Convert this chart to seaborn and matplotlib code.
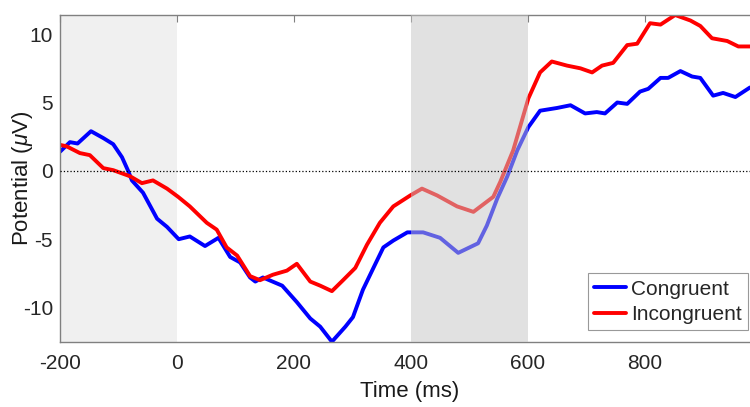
import pandas as pd
import seaborn as sns
import matplotlib.pyplot as plt

# ERP traces (time in ms, potential in microvolts)
cong_t = [-200, -183, -170, -147, -126, -109, -94, -84, -77, -58, -34, -17, 3, 22, 48, 71,
          91, 108, 125, 134, 147, 180, 205, 228, 245, 265, 288, 301, 318, 336, 353, 370,
          394, 421, 450, 481, 515, 530, 548, 565, 582, 601, 621, 650, 673, 698, 718, 732,
          753, 770, 792, 806, 827, 840, 861, 881, 895, 917, 934, 955, 980]
cong_v = [1.4, 2.1, 2.0, 2.9, 2.4, 1.95, 1.0, 0.05, -0.7, -1.6, -3.5, -4.1, -5.0, -4.8, -5.5, -4.9,
          -6.3, -6.7, -7.8, -8.1, -7.8, -8.4, -9.6, -10.8, -11.4, -12.5, -11.4, -10.7, -8.7, -7.1, -5.6, -5.1,
          -4.5, -4.5, -4.9, -6.0, -5.3, -4.0, -2.0, -0.4, 1.5, 3.2, 4.4, 4.6, 4.8, 4.2, 4.3, 4.2,
          5.0, 4.9, 5.8, 6.0, 6.8, 6.8, 7.3, 6.9, 6.8, 5.5, 5.7, 5.4, 6.1]

incong_t = [-200, -189, -166, -149, -126, -109, -80, -60, -41, -17, 2, 22, 51, 68, 85, 103,
            125, 142, 164, 188, 205, 228, 245, 265, 284, 305, 325, 347, 370, 399, 419, 445,
            479, 507, 541, 553, 575, 601, 621, 641, 667, 690, 710, 727, 746, 770, 787, 809,
            827, 852, 878, 895, 915, 941, 960, 980]
incong_v = [1.9, 1.8, 1.3, 1.15, 0.2, 0.05, -0.4, -0.9, -0.7, -1.3, -1.9, -2.6, -3.8, -4.3, -5.6, -6.2,
            -7.7, -8.0, -7.6, -7.3, -6.8, -8.1, -8.4, -8.8, -8.0, -7.1, -5.4, -3.8, -2.6, -1.8, -1.3, -1.8,
            -2.6, -3.0, -1.9, -0.8, 1.5, 5.3, 7.2, 8.0, 7.7, 7.5, 7.2, 7.7, 7.9, 9.2, 9.3, 10.8,
            10.7, 11.4, 11.0, 10.6, 9.7, 9.5, 9.1, 9.1]

conditions = ['Congruent', 'Incongruent']
baseline_win = (-200, 0)
analysis_win = (400, 600)
xticks = [-200, 0, 200, 400, 600, 800]
yticks = [-10, -5, 0, 5, 10]

df = pd.concat([
    pd.DataFrame({'time': cong_t, 'potential': cong_v, 'condition': conditions[0]}),
    pd.DataFrame({'time': incong_t, 'potential': incong_v, 'condition': conditions[1]}),
])

sns.set_style('white')
plt.rcParams['font.family'] = ['Liberation Sans', 'DejaVu Sans']
plt.rcParams['mathtext.fontset'] = 'custom'
plt.rcParams['mathtext.it'] = 'Liberation Sans:italic'
plt.rcParams['axes.unicode_minus'] = False

fig = plt.figure(figsize=(7.5, 4.07), dpi=100)
ax = fig.add_axes([0.08, 0.1604, 0.92, 0.8027])

ax.axvspan(*baseline_win, color='#f0f0f0', zorder=0, lw=0)
sns.lineplot(data=df, x='time', y='potential', hue='condition', palette=['#0000ff', '#ff0000'],
             estimator=None, lw=2.8, ax=ax, zorder=2, solid_joinstyle='round')
# the analysis window sits on top of the traces, fading them
ax.axvspan(*analysis_win, color='#c4c4c4', alpha=0.5, zorder=3, lw=0)
ax.axhline(0, color='black', ls=':', lw=0.9, zorder=4)

ax.set_xlim(-200, 980)
ax.set_ylim(-12.5, 11.4)
ax.set_xticks(xticks)
ax.set_yticks(yticks)
ax.set_xlabel('Time (ms)', fontsize=16, color='#1a1a1a')
ax.set_ylabel(r'Potential ($\mu$V)', fontsize=16, color='#1a1a1a')
ax.xaxis.set_label_coords(0.507, -0.12)
ax.yaxis.set_label_coords(-0.036, 0.5)
ax.tick_params(direction='in', top=True, right=False, length=5, width=0.8, color='#808080',
               labelsize=15, labelcolor='#262626')
ax.tick_params(axis='x', pad=9)
ax.tick_params(axis='y', pad=5)
for s in ax.spines.values():
    s.set_color('#808080')
    s.set_linewidth(1)
ax.spines['right'].set_visible(False)

leg = ax.legend(loc='lower right', bbox_to_anchor=(0.997, 0.189), bbox_transform=fig.transFigure,
                fontsize=15, frameon=True, fancybox=False, handlelength=1.5, handletextpad=0.25,
                borderpad=0.3, labelspacing=0.3, borderaxespad=0)
leg.get_frame().set_edgecolor('#808080')
leg.get_frame().set_linewidth(0.8)
leg.set_zorder(5)

fig.savefig('out.png', dpi=100)
